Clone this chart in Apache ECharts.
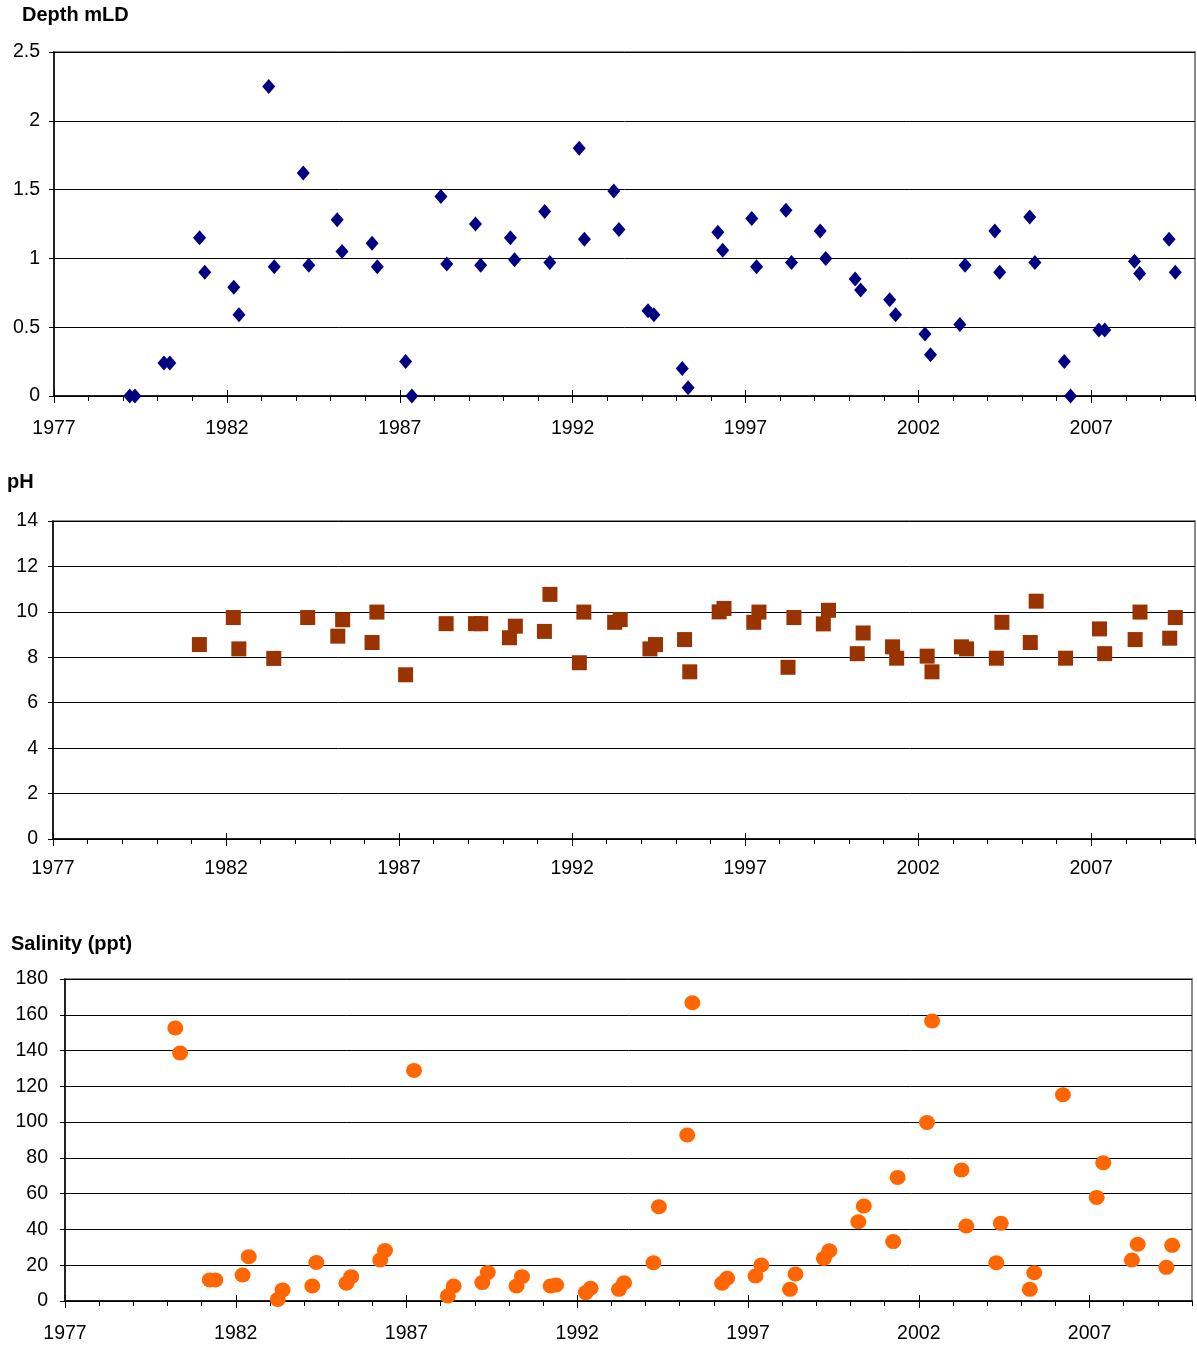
<!DOCTYPE html>
<html>
<head>
<meta charset="utf-8">
<script src="https://cdn.jsdelivr.net/npm/echarts@6/dist/echarts.min.js"></script>
<style>
html,body{margin:0;padding:0;background:#fff;}
#chart{width:1197px;height:1347px;}
</style>
</head>
<body>
<div id="chart"></div>
<script>
// ---- Data ----
const titles = ['Depth mLD', 'pH', 'Salinity (ppt)'];
const yearLabels = [1977, 1982, 1987, 1992, 1997, 2002, 2007];

const depthYears = [1979.19,1979.34,1980.18,1980.35,1981.21,1981.36,1982.2,1982.35,1983.21,1983.37,1984.21,1984.37,1985.19,1985.33,1986.2,1986.35,1987.17,1987.35,1988.19,1988.36,1989.19,1989.34,1990.2,1990.32,1991.19,1991.34,1992.19,1992.34,1993.19,1993.34,1994.18,1994.35,1995.17,1995.34,1996.2,1996.34,1997.18,1997.32,1998.17,1998.33,1999.16,1999.32,2000.17,2000.33,2001.17,2001.34,2002.19,2002.35,2003.2,2003.35,2004.21,2004.35,2005.22,2005.37,2006.22,2006.4,2007.22,2007.39,2008.25,2008.4,2009.25,2009.43];
const depthValues = [0,0,0.24,0.24,1.15,0.90,0.79,0.59,2.25,0.94,1.62,0.95,1.28,1.05,1.11,0.94,0.25,0,1.45,0.96,1.25,0.95,1.15,0.99,1.34,0.97,1.80,1.14,1.49,1.21,0.62,0.59,0.20,0.06,1.19,1.06,1.29,0.94,1.35,0.97,1.20,1.00,0.85,0.77,0.70,0.59,0.45,0.30,0.52,0.95,1.20,0.90,1.30,0.97,0.25,0,0.48,0.48,0.98,0.89,1.14,0.90];

const phYears = [1981.23,1982.21,1982.37,1983.38,1984.36,1985.23,1985.37,1986.22,1986.36,1987.19,1988.36,1989.21,1989.36,1990.19,1990.36,1991.2,1991.36,1992.21,1992.34,1993.23,1993.39,1994.25,1994.41,1995.25,1995.4,1996.25,1996.39,1997.25,1997.4,1998.24,1998.41,1999.26,1999.41,2000.24,2000.41,2001.26,2001.38,2002.26,2002.4,2003.25,2003.4,2004.26,2004.42,2005.24,2005.41,2006.26,2007.24,2007.39,2008.27,2008.41,2009.27,2009.43];
const phValues = [8.56,9.75,8.37,7.95,9.75,8.93,9.65,8.65,9.99,7.23,9.48,9.48,9.48,8.86,9.37,9.14,10.77,7.76,9.99,9.54,9.66,8.37,8.56,8.78,7.36,10.0,10.15,9.54,9.99,7.56,9.75,9.47,10.07,8.16,9.07,8.46,7.96,8.05,7.36,8.46,8.37,7.96,9.54,8.65,10.47,7.96,9.25,8.16,8.78,9.99,8.84,9.75];

const salYears = [1980.23,1980.37,1981.24,1981.4,1982.2,1982.38,1983.23,1983.37,1984.24,1984.36,1985.24,1985.38,1986.23,1986.37,1987.22,1988.21,1988.38,1989.22,1989.38,1990.22,1990.38,1991.22,1991.38,1992.25,1992.39,1993.22,1993.37,1994.23,1994.39,1995.22,1995.37,1996.24,1996.39,1997.22,1997.39,1998.23,1998.39,1999.22,1999.38,2000.23,2000.39,2001.25,2001.38,2002.24,2002.39,2003.25,2003.39,2004.27,2004.4,2005.25,2005.38,2006.22,2007.21,2007.4,2008.24,2008.41,2009.25,2009.42];
const salValues = [152.6,138.6,11.8,11.8,14.5,24.8,0.9,6.2,8.4,21.5,9.9,13.6,22.9,28.2,128.9,2.8,8.4,10.3,15.9,8.4,13.6,8.4,9.0,4.7,7.1,6.5,10.2,21.4,52.7,92.8,166.7,9.9,12.7,14.0,20.1,6.5,15.1,23.8,28.1,44.3,53.1,33.2,69.1,99.8,156.5,73.2,41.9,21.4,43.4,6.5,15.8,115.3,57.9,77.3,22.9,31.7,18.8,31.1];

const yRanges = [[0, 2.5, 0.5], [0, 14, 2], [0, 180, 20]];

// ---- Build option ----
const FONT = '"Liberation Sans", Arial, sans-serif';
const grids = [
  {left: 54, top: 52, width: 1141, height: 344},
  {left: 53, top: 521, width: 1142, height: 318},
  {left: 65, top: 979, width: 1127, height: 322}
];
const titleTops = [5, 472, 934];
const titleLefts = [22, 7, 11];
const xLabelMargins = [23, 20, 23];
const yLabelMargins = [14, 15, 17];

function pairs(xs, ys) { return xs.map((x, i) => [x, ys[i]]); }

const option = {
  animation: false,
  backgroundColor: '#fff',
  title: titles.map((t, i) => ({
    text: t, left: titleLefts[i], top: titleTops[i], padding: 0,
    textStyle: {fontFamily: FONT, fontWeight: 'bold', fontSize: 20, color: '#000'}
  })),
  grid: grids.map(g => Object.assign({show: true, borderColor: '#8c8c8c', borderWidth: 2, backgroundColor: 'transparent', containLabel: false}, g)),
  xAxis: [],
  yAxis: [],
  series: []
};

for (let i = 0; i < 3; i++) {
  option.xAxis.push({
    type: 'value', gridIndex: i, min: 1977, max: 2010, interval: 1, position: 'bottom',
    axisLine: {show: true, onZero: false, lineStyle: {color: '#000', width: 1.5}},
    axisTick: {show: true, length: 5, lineStyle: {color: '#000', width: 1}},
    axisLabel: {show: true, customValues: yearLabels, margin: xLabelMargins[i], fontFamily: FONT, fontSize: 19.5, color: '#000', formatter: v => String(v)},
    splitLine: {show: false}
  });
  option.xAxis.push({
    type: 'value', gridIndex: i, min: 1977, max: 2010, interval: 5, position: 'bottom', offset: -6,
    axisLine: {show: false, onZero: false},
    axisTick: {show: true, customValues: yearLabels, length: 13, lineStyle: {color: '#000', width: 1}},
    axisLabel: {show: false},
    splitLine: {show: false}
  });
  option.yAxis.push({
    type: 'value', gridIndex: i, min: yRanges[i][0], max: yRanges[i][1], interval: yRanges[i][2],
    axisLine: {show: true, onZero: false, lineStyle: {color: '#000', width: 1.5}},
    axisTick: {show: true, length: 5, lineStyle: {color: '#000', width: 1}},
    axisLabel: {margin: yLabelMargins[i], fontFamily: FONT, fontSize: 19.5, color: '#000'},
    splitLine: {show: true, lineStyle: {color: '#000', width: 1}}
  });
}

option.series.push({
  type: 'scatter', xAxisIndex: 0, yAxisIndex: 0, clip: false,
  symbol: 'diamond', symbolSize: [13, 15],
  itemStyle: {color: '#000080', opacity: 1},
  data: pairs(depthYears, depthValues)
});
option.series.push({
  type: 'scatter', xAxisIndex: 2, yAxisIndex: 1, clip: false,
  symbol: 'rect', symbolSize: 15,
  itemStyle: {color: '#993300', opacity: 1},
  data: pairs(phYears, phValues)
});
option.series.push({
  type: 'scatter', xAxisIndex: 4, yAxisIndex: 2, clip: false,
  symbol: 'circle', symbolSize: [16, 15],
  itemStyle: {color: '#FF6600', opacity: 1},
  data: pairs(salYears, salValues)
});

const chart = echarts.init(document.getElementById('chart'), null, {renderer: 'canvas'});
chart.setOption(option);
</script>
</body>
</html>
